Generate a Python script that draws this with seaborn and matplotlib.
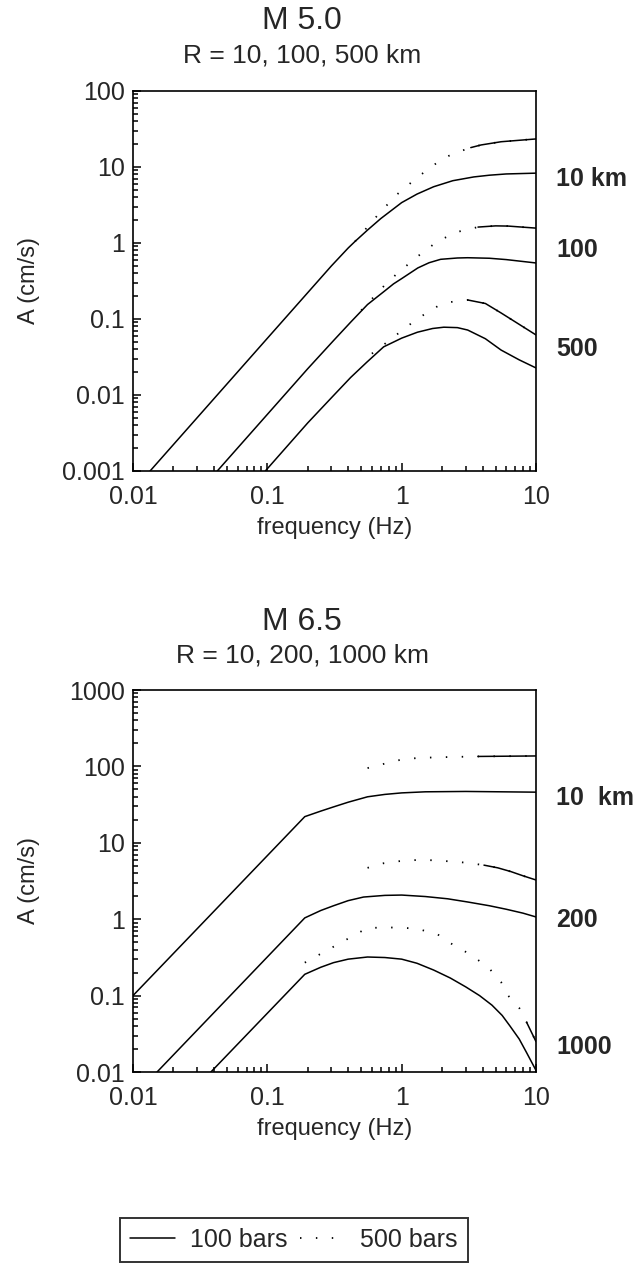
import numpy as np
import pandas as pd
import matplotlib
matplotlib.use("Agg")
import matplotlib.pyplot as plt
import seaborn as sns
from matplotlib.ticker import LogLocator, FuncFormatter, NullFormatter
from matplotlib.lines import Line2D

# ---------------- data ----------------
# Top panel: M 5.0, R = 10, 100, 500 km
m50_r10_100_f = [0.0134, 0.1, 0.3, 0.4, 0.45, 0.557, 0.7, 1.0, 1.3, 1.73, 2.4, 3.44, 4.5, 6.0, 10.0]
m50_r10_100_a = [0.001, 0.0557, 0.50, 0.86, 1.05, 1.48, 2.1, 3.4, 4.4, 5.5, 6.6, 7.4, 7.8, 8.1, 8.3]
m50_r10_500_f = [0.45, 0.577, 0.7, 0.93, 1.32, 1.86, 2.24, 2.7, 3.27, 3.9, 5.5, 10.0]
m50_r10_500_a = [1.05, 1.75, 2.6, 4.4, 7.4, 11.6, 14.0, 16.0, 18.0, 19.5, 21.5, 23.4]

m50_r100_100_f = [0.0424, 0.2, 0.311, 0.42, 0.557, 0.75, 0.87, 1.0, 1.32, 1.6, 1.95, 2.6, 3.1, 4.5, 6.0, 10.0]
m50_r100_100_a = [0.001, 0.0222, 0.052, 0.092, 0.155, 0.235, 0.29, 0.34, 0.47, 0.55, 0.61, 0.635, 0.64, 0.63, 0.605, 0.546]
m50_r100_500_f = [0.5, 0.75, 0.93, 1.32, 1.86, 2.6, 3.7, 5.0, 6.2, 10.0]
m50_r100_500_a = [0.13, 0.28, 0.40, 0.67, 1.06, 1.4, 1.62, 1.68, 1.67, 1.57]

m50_r500_100_f = [0.0966, 0.2, 0.3, 0.417, 0.55, 0.734, 1.0, 1.31, 1.7, 2.06, 2.6, 3.1, 4.2, 5.5, 7.5, 10.0]
m50_r500_100_a = [0.001, 0.0043, 0.0092, 0.017, 0.027, 0.043, 0.056, 0.067, 0.075, 0.078, 0.077, 0.0716, 0.055, 0.039, 0.029, 0.0227]
m50_r500_500_f = [0.6, 0.76, 1.0, 1.3, 1.86, 2.24, 3.1, 4.2, 5.5, 7.5, 10.0]
m50_r500_500_a = [0.035, 0.048, 0.07, 0.10, 0.148, 0.166, 0.178, 0.16, 0.12, 0.085, 0.0617]

# Bottom panel: M 6.5, R = 10, 200, 1000 km
m65_r10_100_f = [0.01, 0.19, 0.25, 0.311, 0.4, 0.557, 0.75, 1.0, 1.5, 3.0, 10.0]
m65_r10_100_a = [0.1, 22.0, 26.0, 29.5, 34.0, 40.0, 43.0, 45.0, 46.5, 47.0, 46.0]
m65_r10_500_f = [0.557, 0.93, 1.31, 2.0, 3.7, 10.0]
m65_r10_500_a = [95.0, 120.0, 129.0, 132.0, 135.0, 137.0]

m65_r200_100_f = [0.0151, 0.19, 0.25, 0.311, 0.4, 0.52, 0.75, 1.0, 1.5, 2.2, 3.1, 4.5, 6.0, 8.0, 10.0]
m65_r200_100_a = [0.01, 1.04, 1.3, 1.5, 1.75, 1.95, 2.05, 2.07, 1.98, 1.85, 1.68, 1.5, 1.35, 1.2, 1.07]
m65_r200_500_f = [0.557, 0.734, 1.0, 1.31, 1.8, 2.3, 3.0, 4.1, 5.2, 6.5, 8.0, 10.0]
m65_r200_500_a = [4.7, 5.4, 5.8, 5.96, 5.9, 5.7, 5.5, 5.1, 4.7, 4.2, 3.7, 3.26]

m65_r1000_100_f = [0.038, 0.19, 0.25, 0.311, 0.4, 0.557, 0.75, 1.0, 1.3, 1.73, 2.3, 3.0, 3.8, 4.7, 5.6, 6.4, 7.5, 8.5, 10.0]
m65_r1000_100_a = [0.01, 0.19, 0.235, 0.27, 0.30, 0.32, 0.315, 0.30, 0.265, 0.216, 0.17, 0.13, 0.10, 0.075, 0.055, 0.040, 0.027, 0.018, 0.0105]
m65_r1000_500_f = [0.19, 0.557, 0.93, 1.31, 1.86, 2.24, 3.2, 4.39, 5.5, 6.2, 7.5, 8.5, 10.0]
m65_r1000_500_a = [0.27, 0.77, 0.78, 0.75, 0.63, 0.50, 0.35, 0.237, 0.15, 0.10, 0.069, 0.045, 0.025]

x_ticks = [0.01, 0.1, 1, 10]
top_y_ticks = [0.001, 0.01, 0.1, 1, 10, 100]
bot_y_ticks = [0.01, 0.1, 1, 10, 100, 1000]
legend_labels = ["100 bars", "500 bars"]

# ---------------- styling ----------------
sns.set_theme(style="ticks")
plt.rcParams["font.family"] = ["Liberation Sans", "DejaVu Sans"]
plt.rcParams["axes.linewidth"] = 1.2

W, H = 638, 1271
fig = plt.figure(figsize=(W / 100, H / 100), dpi=100)
fig.patch.set_facecolor("white")

ax1 = fig.add_axes([133 / W, 1 - 471 / H, 403 / W, 380 / H])
ax2 = fig.add_axes([133 / W, 1 - 1072 / H, 403 / W, 382 / H])

DOT = (0, (0.8, 8.0))
LW = 1.1


def solid(ax, f, a):
    df = pd.DataFrame({"f": f, "A": a})
    sns.lineplot(data=df, x="f", y="A", ax=ax, color="black", lw=LW,
                 estimator=None, sort=False)


def dotted(ax, f, a, dense_from):
    df = pd.DataFrame({"f": f, "A": a})
    sns.lineplot(data=df, x="f", y="A", ax=ax, color="black", lw=1.3,
                 linestyle=DOT, estimator=None, sort=False)
    sub = df[df["f"] >= dense_from]
    sns.lineplot(data=sub, x="f", y="A", ax=ax, color="black", lw=LW,
                 estimator=None, sort=False)


solid(ax1, m50_r10_100_f, m50_r10_100_a)
dotted(ax1, m50_r10_500_f, m50_r10_500_a, 3.27)
solid(ax1, m50_r100_100_f, m50_r100_100_a)
dotted(ax1, m50_r100_500_f, m50_r100_500_a, 3.7)
solid(ax1, m50_r500_100_f, m50_r500_100_a)
dotted(ax1, m50_r500_500_f, m50_r500_500_a, 3.1)

solid(ax2, m65_r10_100_f, m65_r10_100_a)
dotted(ax2, m65_r10_500_f, m65_r10_500_a, 3.7)
solid(ax2, m65_r200_100_f, m65_r200_100_a)
dotted(ax2, m65_r200_500_f, m65_r200_500_a, 4.1)
solid(ax2, m65_r1000_100_f, m65_r1000_100_a)
dotted(ax2, m65_r1000_500_f, m65_r1000_500_a, 8.5)

fmt = FuncFormatter(lambda v, _: f"{v:g}")
for ax, yt in ((ax1, top_y_ticks), (ax2, bot_y_ticks)):
    ax.set_xscale("log")
    ax.set_yscale("log")
    ax.set_xlim(x_ticks[0], x_ticks[-1])
    ax.set_ylim(yt[0], yt[-1])
    ax.set_xticks(x_ticks)
    ax.set_yticks(yt)
    ax.xaxis.set_major_formatter(fmt)
    ax.yaxis.set_major_formatter(fmt)
    ax.xaxis.set_minor_locator(LogLocator(base=10, subs=np.arange(2, 10)))
    ax.yaxis.set_minor_locator(LogLocator(base=10, subs=np.arange(2, 10)))
    ax.xaxis.set_minor_formatter(NullFormatter())
    ax.yaxis.set_minor_formatter(NullFormatter())
    ax.tick_params(which="both", direction="in", top=False, right=False,
                   color="black", labelsize=18, width=1.1)
    ax.tick_params(which="major", length=6)
    ax.tick_params(which="minor", length=3.5)
    ax.tick_params(axis="x", which="major", pad=10)
    ax.tick_params(axis="y", which="major", pad=6)
    for s in ax.spines.values():
        s.set_visible(True)
        s.set_color("black")
        s.set_linewidth(1.2)
    ax.set_xlabel("frequency (Hz)", fontsize=17, labelpad=6)
    ax.set_ylabel("A (cm/s)", fontsize=17)
    ax.yaxis.set_label_coords((40 - 133) / 403, 0.5)
    ax.set_facecolor("white")

# titles
fig.text(302 / W, 1 - 21 / H, "M 5.0", ha="center", va="center", fontsize=23)
fig.text(302 / W, 1 - 56 / H, "R = 10, 100, 500 km", ha="center", va="center", fontsize=19)
fig.text(302 / W, 1 - 622 / H, "M 6.5", ha="center", va="center", fontsize=23)
fig.text(302 / W, 1 - 656 / H, "R = 10, 200, 1000 km", ha="center", va="center", fontsize=19)

# distance labels on the right
rk = dict(ha="left", va="center", fontsize=18, fontweight="bold")
fig.text(556 / W, 1 - 179 / H, "10 km", **rk)
fig.text(556 / W, 1 - 250 / H, "100", **rk)
fig.text(556 / W, 1 - 349 / H, "500", **rk)
fig.text(556 / W, 1 - 798 / H, "10  km", **rk)
fig.text(556 / W, 1 - 920 / H, "200", **rk)
fig.text(556 / W, 1 - 1047 / H, "1000", **rk)

handles = [Line2D([], [], color="black", lw=LW),
           Line2D([], [], color="black", lw=1.3, linestyle=DOT)]
leg = fig.legend(handles, legend_labels, loc="center",
                 bbox_to_anchor=(294 / W, 1 - 1240 / H), ncol=2,
                 frameon=True, fancybox=False, edgecolor="black",
                 fontsize=18, handlelength=1.8, columnspacing=0.5,
                 borderpad=0.4, handletextpad=0.6, borderaxespad=0)
leg.get_frame().set_linewidth(1.4)

fig.savefig("out.png", dpi=100, facecolor="white")
